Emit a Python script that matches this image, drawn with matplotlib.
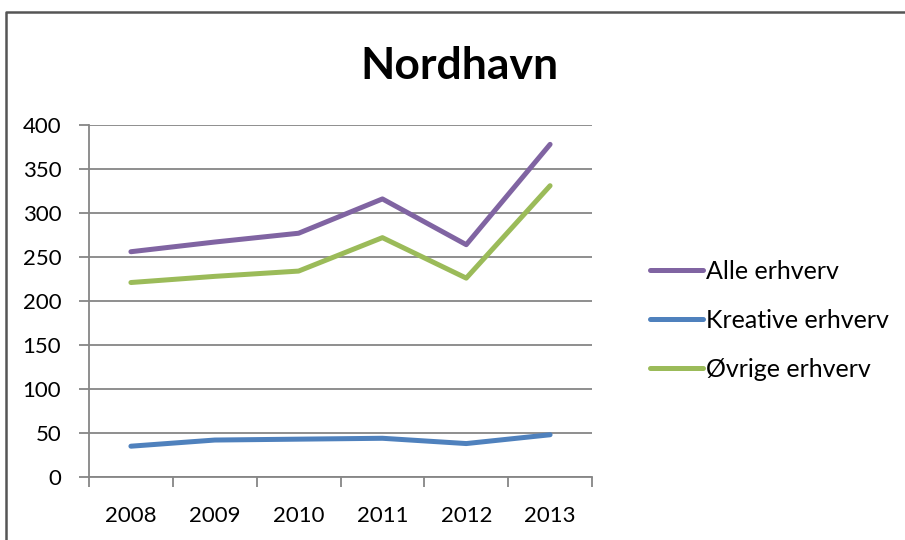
import matplotlib.pyplot as plt
from matplotlib.lines import Line2D

# --- data ---
years = ['2008', '2009', '2010', '2011', '2012', '2013']
alle = [256, 267, 277, 316, 264, 378]
kreative = [35, 42, 43, 44, 38, 48]
ovrige = [221, 228, 234, 272, 226, 331]

plt.rcParams['font.family'] = ['Lato', 'DejaVu Sans']

fig = plt.figure(figsize=(9.05, 5.40), dpi=100)
ax = fig.add_axes([89 / 905, 1 - 477 / 540, 503 / 905, 352 / 540])

# chart border: only top and left edges are visible in the reference
fig.lines.append(Line2D([6 / 905, 6 / 905, 1], [0, 1 - 12 / 540, 1 - 12 / 540],
                        transform=fig.transFigure, color='#555555', linewidth=1.8))

x = range(len(years))
ax.plot(x, alle, color='#8064A2', lw=3.6, solid_capstyle='round', label='Alle erhverv')
ax.plot(x, kreative, color='#4F81BD', lw=3.6, solid_capstyle='round', label='Kreative erhverv')
ax.plot(x, ovrige, color='#9BBB59', lw=3.6, solid_capstyle='round', label='Øvrige erhverv')

ax.set_xlim(-0.5, len(years) - 0.5)
ax.set_ylim(0, 400)
ax.set_yticks(range(0, 401, 50))
ax.set_xticks(list(x))
ax.set_xticklabels(years)
ax.set_xticks([i - 0.5 for i in range(len(years) + 1)], minor=True)

ax.grid(axis='y', color='#868686', linewidth=1.3)
ax.set_axisbelow(True)
for side in ['top', 'right']:
    ax.spines[side].set_visible(False)
for side in ['left', 'bottom']:
    ax.spines[side].set_color('#868686')
    ax.spines[side].set_linewidth(1.3)

ax.tick_params(axis='y', length=7, width=1.3, color='#868686', labelsize=16, pad=13)
ax.tick_params(axis='x', which='major', length=0, labelsize=16, pad=21)
ax.tick_params(axis='x', which='minor', length=7, width=1.3, color='#868686')

fig.text(459 / 905, 1 - 66 / 540, 'Nordhavn', ha='center', va='center',
         fontsize=32, fontweight='bold')

ax.legend(loc='center left', bbox_to_anchor=(1.071, 0.445), frameon=False,
          fontsize=18, handlelength=2.1, handletextpad=0.15, labelspacing=1.05)

fig.savefig('out.png', dpi=100)
